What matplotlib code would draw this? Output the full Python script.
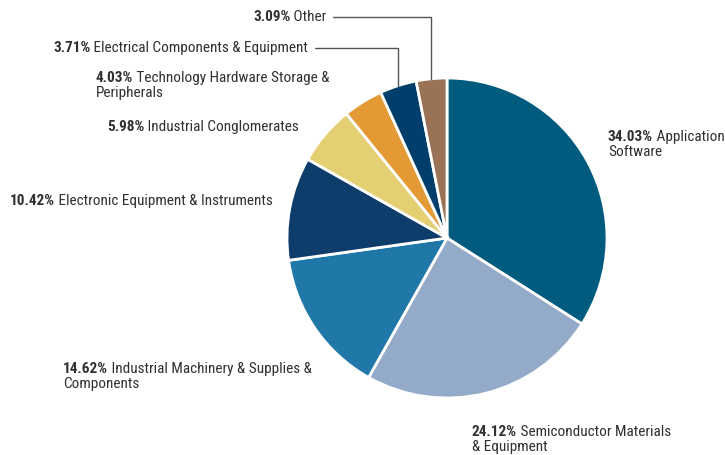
import numpy as np
import matplotlib.pyplot as plt
from matplotlib import font_manager

names = ["Application Software", "Semiconductor Materials & Equipment",
         "Industrial Machinery & Supplies & Components",
         "Electronic Equipment & Instruments", "Industrial Conglomerates",
         "Technology Hardware Storage & Peripherals",
         "Electrical Components & Equipment", "Other"]
shares = [34.03, 24.12, 14.62, 10.42, 5.98, 4.03, 3.71, 3.09]
colors = ["#005b7f", "#93abc8", "#1f78a8", "#0f3d6b", "#e5cf73",
          "#e39a35", "#003e6b", "#9a7255"]

# label text split into lines (first line follows the bold percent)
label_lines = [["Application", "Software"],
               ["Semiconductor Materials", "& Equipment"],
               ["Industrial Machinery & Supplies &", "Components"],
               ["Electronic Equipment & Instruments"],
               ["Industrial Conglomerates"],
               ["Technology Hardware Storage &", "Peripherals"],
               ["Electrical Components & Equipment"],
               ["Other"]]
# left x / first baseline y of each label, in pixels from top-left
label_px = [(608, 141), (472, 436), (63, 373), (10, 205),
            (107, 131), (96, 82), (53, 52), (253, 21)]
leader = [False, False, False, False, False, False, True, True]

avail = {f.name for f in font_manager.fontManager.ttflist}
prefs = ["Roboto Condensed", "Liberation Sans Narrow", "Arial Narrow",
         "Nimbus Sans Narrow", "Archivo Narrow", "Barlow Semi Condensed", "Roboto"]
fam = [p for p in prefs if p in avail][:1] + ["DejaVu Sans"]
plt.rcParams["font.family"] = fam

W, H = 725, 455
fig = plt.figure(figsize=(W / 100, H / 100), dpi=100)
cx, cy, r = 447, 238, 160
ax = fig.add_axes([(cx - r) / W, 1 - (cy + r) / H, 2 * r / W, 2 * r / H])
wedges, _ = ax.pie(shares, colors=colors, startangle=90, counterclock=False,
                   wedgeprops=dict(edgecolor="white", linewidth=2))
ax.set_xlim(-1, 1)
ax.set_ylim(-1, 1)
ax.axis("off")

fs = 11
tc = "#303030"
for i, w in enumerate(wedges):
    px, py = label_px[i]
    pct = fig.text(px / W, 1 - py / H, f"{shares[i]:.2f}%", fontsize=fs,
                   fontweight="bold", color=tc, va="baseline", ha="left")
    first = ax.annotate(" " + label_lines[i][0], xy=(1, 0), xycoords=pct,
                        va="bottom", ha="left", fontsize=fs, color=tc,
                        annotation_clip=False)
    if len(label_lines[i]) > 1:
        ax.annotate(label_lines[i][1], xy=(0, 0), xycoords=pct,
                    xytext=(0, -0.5), textcoords="offset points",
                    va="top", ha="left", fontsize=fs, color=tc,
                    annotation_clip=False)
    if leader[i]:
        ang = np.deg2rad((w.theta1 + w.theta2) / 2)
        ax.annotate("", xy=(np.cos(ang), np.sin(ang)), xycoords="data",
                    xytext=(1, 0.5), textcoords=first,
                    arrowprops=dict(arrowstyle="-", color="#555555", lw=1,
                                    shrinkA=5, shrinkB=0,
                                    connectionstyle="angle,angleA=0,angleB=90,rad=0"),
                    annotation_clip=False)

fig.savefig("out.png", dpi=100)
